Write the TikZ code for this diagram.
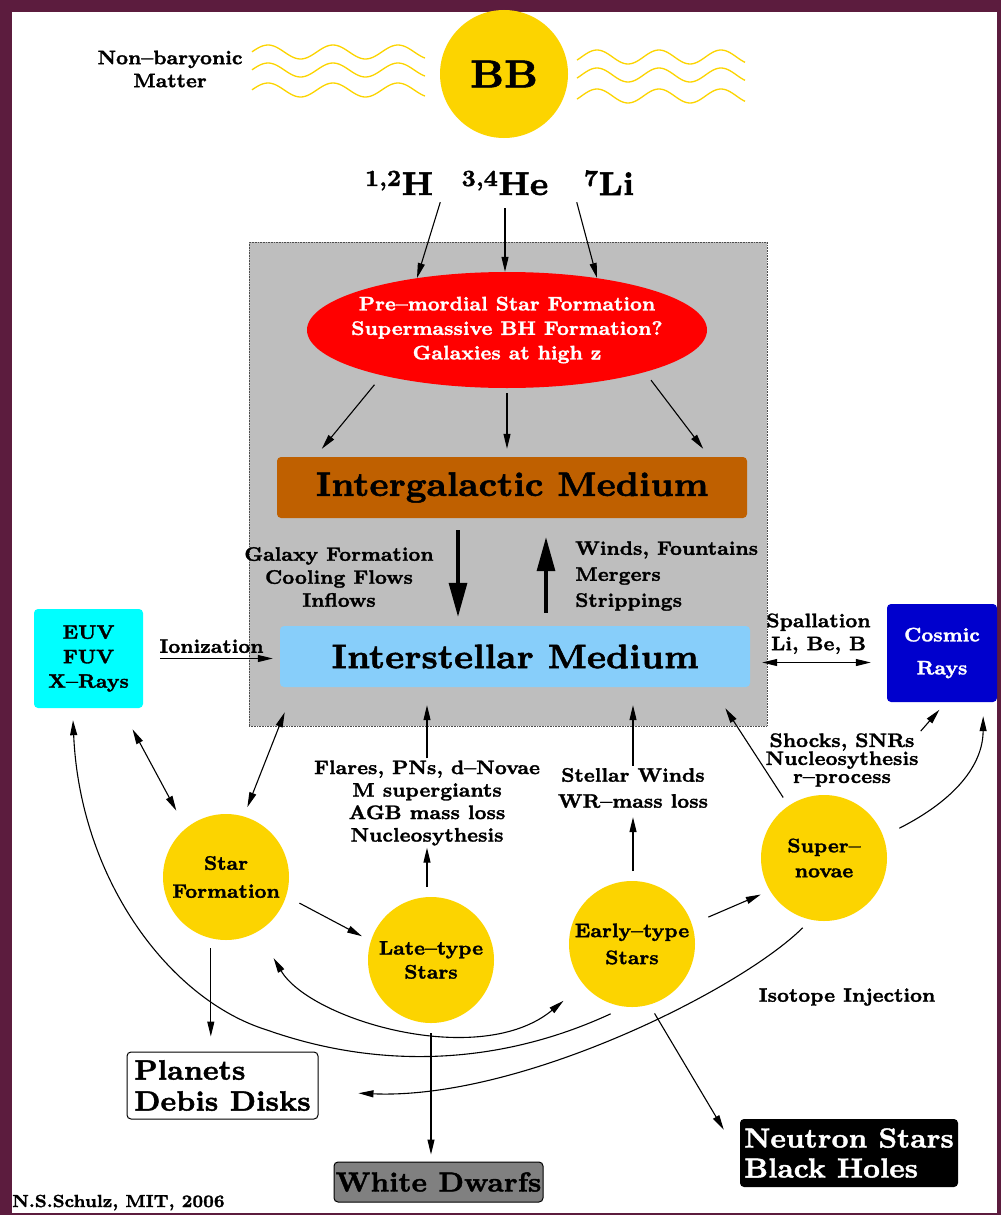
\documentclass[tikz,border=0pt]{standalone}
\usepackage{fontspec}
\usepackage{tikz}
\usetikzlibrary{arrows.meta,shapes.geometric}

\newfontfamily\heavy{lmroman8-bold}[Extension=.otf, Ligatures=TeX, FakeBold=1.5]

\definecolor{bbgold}{RGB}{252,212,0}
\definecolor{igmbrown}{RGB}{191,96,0}
\definecolor{ismblue}{RGB}{135,206,250}
\definecolor{euvcyan}{RGB}{0,255,255}
\definecolor{crblue}{RGB}{0,0,205}
\definecolor{halo}{RGB}{190,190,190}
\definecolor{wdgray}{RGB}{128,128,128}
\definecolor{framebg}{RGB}{92,28,62}

\newcommand{\fsz}[2]{\heavy\fontsize{#1}{#2}\selectfont\lineskiplimit=-20pt}

\begin{document}
\begin{tikzpicture}[x=1pt,y=-1pt]
\tikzstyle{flow} = [-{Triangle[length=15pt,width=7pt]}, line width=1.1pt]
\tikzstyle{twoway} = [{Triangle[length=15pt,width=7pt]}-{Triangle[length=15pt,width=7pt]}, line width=1.1pt]
\tikzstyle{bigflow} = [-{Triangle[length=34pt,width=18pt]}, line width=3.2pt]
\tikzstyle{lbl} = [font=\fsz{19.5}{23}, align=center, inner sep=2pt]
\tikzstyle{star} = [circle, fill=bbgold, minimum size=126pt, inner sep=0pt, outer sep=10pt, align=center]
\tikzstyle{panel} = [rectangle, rounded corners=4pt, inner sep=0pt, align=center]
\tikzstyle{iso} = [font=\fsz{33}{40}, anchor=base, inner sep=7pt]
\tikzstyle{wave} = [bbgold, line width=1.3pt]

% frame
\fill[framebg] (0,0) rectangle (1001,1215);
\fill[white] (12,12) rectangle (997,1213);

% big bang
\node[star, minimum size=128pt, outer sep=0pt, font=\fsz{39}{46}] (bb) at (504,74) {BB};
\node[lbl] (nbm) at (170,69) {Non--baryonic\\Matter};
\foreach \yc in {52,70,90}
  \draw[wave] plot[domain=252:425, samples=80] (\x, {\yc-7*sin(5.5385*(\x-268)+90)});
\foreach \yc in {57,75,96}
  \draw[wave] plot[domain=577:745, samples=80] (\x, {\yc-7*sin(5.8065*(\x-597)+90)});
\node[iso] (h) at (399,195) {\textsuperscript{1,2}H};
\node[iso] (he) at (505,195) {\textsuperscript{3,4}He};
\node[iso] (li) at (609,195) {\textsuperscript{7}Li};

% galaxy
\node[rectangle, fill=halo, draw=black!70, densely dotted, line width=0.6pt, minimum width=518pt, minimum height=484pt] (gal) at (508,484) {};
\node[ellipse, fill=red, text=white, minimum width=400pt, minimum height=116pt, inner xsep=-17pt, inner ysep=3pt, font=\fsz{19.5}{24.5}, align=center] (ell) at (507,330) {Pre--mordial Star Formation\\Supermassive BH Formation?\\Galaxies at high z};
\node[panel, fill=igmbrown, minimum width=470pt, minimum height=61pt, font=\fsz{34}{40}] (igm) at (512,487.5) {Intergalactic Medium};
\node[panel, fill=ismblue, minimum width=470pt, minimum height=61pt, font=\fsz{34}{40}] (ism) at (515,656.5) {Interstellar Medium};
\node[lbl] (gfl) at (339,577) {Galaxy Formation\\Cooling Flows\\Inflows};
\node[lbl, anchor=west, align=left, font=\fsz{19.5}{26}] (wfm) at (573,576) {Winds, Fountains\\Mergers\\Strippings};

\node[panel, fill=euvcyan, minimum width=109pt, minimum height=99pt, font=\fsz{19.5}{24.5}] (euv) at (88.5,658.5) {EUV\\FUV\\X--Rays};
\node[panel, fill=crblue, text=white, minimum width=110pt, minimum height=98pt, font=\fsz{19.5}{33}] (cr) at (942,653) {Cosmic\\Rays};

% stars
\node[star, font=\fsz{19.5}{28}] (sf) at (226,877) {Star\\Formation};
\node[star, font=\fsz{19.5}{24}] (lts) at (431,960) {Late--type\\Stars};
\node[star, font=\fsz{19.5}{27}] (ets) at (632,944) {Early--type\\Stars};
\node[star, font=\fsz{19.5}{25}] (sn) at (824,858) {Super--\\novae};

\node[lbl, font=\fsz{19.5}{22.5}] (fpn) at (427,803) {Flares, PNs, d--Novae\\M supergiants\\AGB mass loss\\Nucleosythesis};
\node[lbl, font=\fsz{19.5}{26}] (swr) at (633,788) {Stellar Winds\\WR--mass loss};
\node[lbl, font=\fsz{19.5}{18}] (shk) at (842,760) {Shocks, SNRs\\Nucleosythesis\\r--process};
\node[lbl] (isi) at (847,997) {Isotope Injection};

% remnants
\node[panel, draw=black, fill=white, line width=1pt, minimum width=191pt, minimum height=67pt, align=left, font=\fsz{28}{31}] (pdd) at (222.5,1085.5) {Planets\\Debis Disks};
\node[panel, draw=black, fill=wdgray, line width=1pt, minimum width=209pt, minimum height=40pt, font=\fsz{27.5}{31}] (wd) at (438.5,1182) {White Dwarfs};
\node[panel, fill=black, text=white, minimum width=218pt, minimum height=68pt, align=left, font=\fsz{27.5}{30}] (nsbh) at (849,1153) {Neutron Stars\\Black Holes};
\node[anchor=base west, inner sep=0pt, font=\fsz{17.5}{21}] (auth) at (12,1207) {N.S.Schulz, MIT, 2006};

% arrows
\draw[flow] (h.south east) -- (ell.150);
\draw[flow, shorten <=6pt] (he.south) -- (he.south |- ell.north);
\draw[flow] (li.south west) -- (ell.30);
\draw[flow, shorten <=12pt] (ell.200) -- ([xshift=45pt,yshift=8pt]igm.north west);
\draw[flow, shorten <=5pt, shorten >=8pt] (ell.south) -- (ell.south |- igm.north);
\draw[flow, shorten <=10pt] (ell.-17) -- ([xshift=-44pt,yshift=8pt]igm.north east);
\draw[bigflow, shorten <=12pt, shorten >=9pt] ([xshift=-54pt]igm.south) -- ([xshift=-54pt]igm.south |- ism.north);
\draw[bigflow, shorten <=13pt, shorten >=19pt] ([xshift=34pt]igm.south |- ism.north) -- ([xshift=34pt]igm.south);
\draw[flow, shorten <=17pt, shorten >=7pt] (euv.east) -- (euv.east -| ism.west) node[lbl, midway, above=3pt] (ion) {Ionization};
\draw[twoway, shorten <=12pt, shorten >=16pt] ([yshift=-6pt]ism.east) -- ([yshift=-6pt]ism.east -| cr.west) node[lbl, midway, above=6pt] (spl) {Spallation\\Li, Be, B};
\draw[twoway, shorten <=24pt, shorten >=10pt] ([xshift=-22pt]euv.south east) -- (sf.128);
\draw[twoway] (sf.73) -- ([xshift=36pt,yshift=14pt]gal.south west);
\draw[flow, shorten <=5pt] (sf.-19) -- (lts.161);
\draw[flow] (lts.north -| fpn.south) -- (fpn.south);
\draw[flow, shorten >=18pt] (fpn.north) -- (fpn.north |- ism.south);
\draw[flow, shorten >=7pt] (ets.north -| swr.south) -- (swr.south);
\draw[flow, shorten >=18pt] (swr.north) -- (swr.north |- ism.south);
\draw[flow] (sn.124) -- ([xshift=-42pt,yshift=18pt]gal.south east);
\draw[flow, shorten <=8pt] (ets.19) -- (sn.210);
\draw[flow, shorten >=10pt] (shk.north east) -- ([xshift=4pt]cr.south);
\draw[flow, shorten <=8pt, shorten >=14pt] (sn.21) .. controls (955,800) and (983,765) .. ([xshift=-14pt]cr.south east);
\draw[flow, shorten >=15pt] (sf.258) -- (sf.258 |- pdd.north);
\draw[flow, shorten >=7pt] (lts.south) -- (lts.south |- wd.north);
\draw[flow] (ets.-72) -- ([xshift=-16pt,yshift=-11pt]nsbh.north west);
\draw[flow, shorten >=40pt] (sn.253) .. controls (740,990) and (520,1100) .. ([yshift=-6pt]pdd.east);
\draw[flow, shorten >=12pt] (ets.253) .. controls (500,1065) and (380,1070) .. (267,1030) .. controls (170,1000) and (80,880) .. ([xshift=-16pt]euv.south);
\draw[twoway, shorten <=21pt, shorten >=16pt] (sf) .. controls (310,1020) and (480,1070) .. (ets);
\end{tikzpicture}
\end{document}
